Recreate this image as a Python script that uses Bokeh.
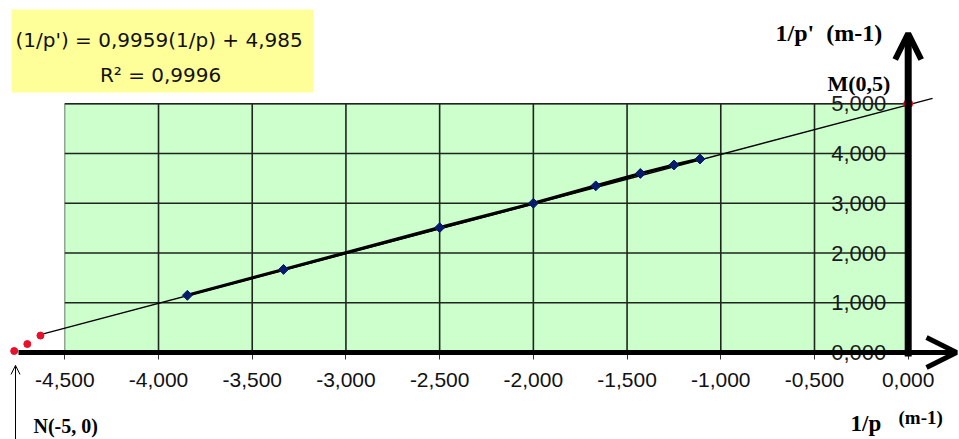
from bokeh.plotting import figure
from bokeh.models import (LinearAxis, FixedTicker, Label, Arrow, OpenHead,
                          BoxAnnotation, Range1d)
from bokeh.embed import file_html
from bokeh.resources import INLINE

# ---------------- data ----------------
inv_p = [-3.846, -3.333, -2.500, -2.000, -1.667, -1.429, -1.250, -1.111]
inv_p_prime = [1.15, 1.67, 2.51, 3.00, 3.35, 3.60, 3.77, 3.89]

trend_x = [-4.63, 0.13]
trend_y = [0.36, 5.11]

n_dots_x = [-4.77, -4.70, -4.63]
n_dots_y = [0.03, 0.17, 0.34]
m_x = [0.0]
m_y = [5.0]

x_ticks = [-4.5, -4.0, -3.5, -3.0, -2.5, -2.0, -1.5, -1.0, -0.5, 0.0]
x_tick_labels = ["-4,500", "-4,000", "-3,500", "-3,000", "-2,500",
                 "-2,000", "-1,500", "-1,000", "-0,500", "0,000"]
y_ticks = [0.0, 1.0, 2.0, 3.0, 4.0, 5.0]
y_tick_labels = ["0,000", "1,000", "2,000", "3,000", "4,000", "5,000"]

eq_line1 = "(1/p') = 0,9959(1/p) + 4,985"
eq_line2 = "R\u00b2 = 0,9996"
y_title = "1/p'\u00a0 (m-1)"
x_title = "1/p"
x_unit = "(m-1)"
m_label = "M(0,5)"
n_label = "N(-5, 0)"

# ---------------- layout ----------------
X0, X1 = -4.8431, 0.2737
Y0, Y1 = -1.7491, 7.0768

p = figure(width=959, height=439, output_backend="svg", toolbar_location=None,
           x_range=Range1d(X0, X1), y_range=Range1d(Y0, Y1),
           x_axis_type=None, y_axis_type=None,
           min_border=0, min_border_left=0, min_border_right=0,
           min_border_top=0, min_border_bottom=0)
p.outline_line_color = None
p.background_fill_color = "white"
p.border_fill_color = "white"

# equation box
p.add_layout(BoxAnnotation(left=-4.784, right=-3.173, bottom=5.227, top=6.896,
                           fill_color="#FFFF99", fill_alpha=1.0,
                           line_color=None, level="underlay"))

# plot area
p.quad(left=[x_ticks[0]], right=[x_ticks[-1]], bottom=[y_ticks[0]], top=[y_ticks[-1]],
       fill_color="#CCFFCC", line_color="#7d8f7d", line_width=1.2)

# grid lines
vx = x_ticks[1:-1]
p.segment(x0=vx, y0=[y_ticks[0]] * len(vx), x1=vx, y1=[y_ticks[-1]] * len(vx),
          line_color="#1e261e", line_width=1.6)
hy = y_ticks[1:]
p.segment(x0=[x_ticks[0]] * len(hy), y0=hy, x1=[x_ticks[-1]] * len(hy), y1=hy,
          line_color="#1e261e", line_width=1.6)

# trendline (thin) and data line (thick)
p.line(trend_x, trend_y, line_color="black", line_width=1.3)
p.line(inv_p, inv_p_prime, line_color="black", line_width=3.2)
p.scatter(inv_p, inv_p_prime, marker="square", angle=0.785398, size=7,
          fill_color="#0a1a6a", line_color="#0a1a6a")

# red points
p.scatter(n_dots_x, n_dots_y, marker="circle", size=7,
          fill_color="#e8102a", line_color="#e8102a")
p.scatter(m_x, m_y, marker="circle", size=9,
          fill_color="#f01020", line_color="#f01020")

# axes (through the plot, at x=0 and y=0)
xaxis = LinearAxis(fixed_location=0,
                   ticker=FixedTicker(ticks=x_ticks),
                   major_label_overrides=dict(zip(x_ticks, x_tick_labels)),
                   axis_line_color=None,
                   major_tick_out=7, major_tick_in=0,
                   minor_tick_out=0, minor_tick_in=0,
                   major_tick_line_color="#333333", major_tick_line_width=1,
                   major_label_text_font="Liberation Sans",
                   major_label_text_font_size="21px",
                   major_label_text_color="#111111",
                   major_label_standoff=14)
p.add_layout(xaxis, "below")

yaxis = LinearAxis(fixed_location=0,
                   ticker=FixedTicker(ticks=y_ticks),
                   major_label_overrides=dict(zip(y_ticks, y_tick_labels)),
                   axis_line_color=None,
                   major_tick_out=0, major_tick_in=0,
                   minor_tick_out=0, minor_tick_in=0,
                   major_label_text_font="Liberation Sans",
                   major_label_text_font_size="22px",
                   major_label_text_color="#1a1a1a",
                   major_label_standoff=22)
p.add_layout(yaxis, "left")

# axis arrows
p.add_layout(Arrow(x_start=-4.747, y_start=0, x_end=0.2578, y_end=0,
                   line_color="black", line_width=5,
                   end=OpenHead(size=30, line_width=5, line_color="black")))
p.add_layout(Arrow(x_start=0, y_start=-0.08, x_end=0, y_end=6.413,
                   line_color="black", line_width=7,
                   end=OpenHead(size=26, line_width=6, line_color="black")))
p.add_layout(Arrow(x_start=-4.763, y_start=-1.75, x_end=-4.763, y_end=-0.26,
                   line_color="black", line_width=1,
                   end=OpenHead(size=9, line_width=1, line_color="black")))

# equation text
p.add_layout(Label(x=-3.997, y=6.283, text=eq_line1, text_align="center",
                   text_baseline="alphabetic", text_font="DejaVu Sans",
                   text_font_size="20px", text_color="#111111"))
p.add_layout(Label(x=-3.989, y=5.569, text=eq_line2, text_align="center",
                   text_baseline="alphabetic", text_font="DejaVu Sans",
                   text_font_size="20px", text_color="#111111"))

# serif bold labels
serif = "Liberation Serif"
p.add_layout(Label(x=-0.708, y=6.433, text=y_title, text_align="left",
                   text_baseline="alphabetic", text_font=serif, text_color="black",
                   text_font_style="bold", text_font_size="24px"))
p.add_layout(Label(x=-0.4305, y=5.408, text=m_label, text_align="left",
                   text_baseline="alphabetic", text_font=serif, text_color="black",
                   text_font_style="bold", text_font_size="22px"))
p.add_layout(Label(x=-0.3078, y=-1.427, text=x_title, text_align="left",
                   text_baseline="alphabetic", text_font=serif, text_color="black",
                   text_font_style="bold", text_font_size="23px"))
p.add_layout(Label(x=-0.0517, y=-1.307, text=x_unit, text_align="left",
                   text_baseline="alphabetic", text_font=serif, text_color="black",
                   text_font_style="bold", text_font_size="19px"))
p.add_layout(Label(x=-4.667, y=-1.468, text=n_label, text_align="left",
                   text_baseline="alphabetic", text_font=serif, text_color="black",
                   text_font_style="bold", text_font_size="20px"))

open("out.html", "w").write(file_html(p, INLINE))
